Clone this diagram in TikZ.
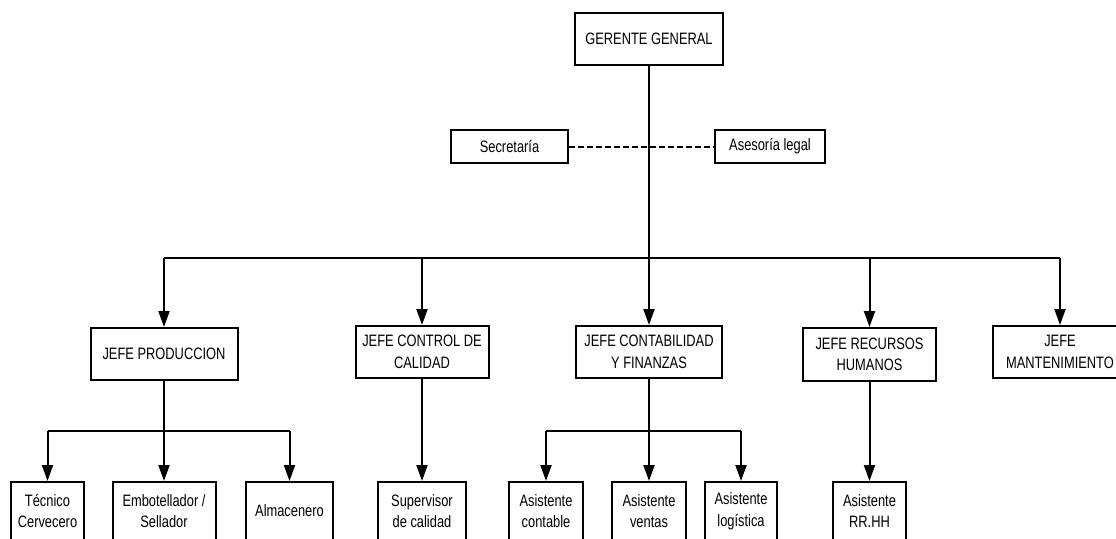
\documentclass[tikz,border=0pt]{standalone}
\usepackage{fontspec}
\setmainfont{Liberation Sans}[FakeStretch=0.78]
\usepackage{tikz}
\usetikzlibrary{arrows.meta}

\begin{document}
\begin{tikzpicture}[x=1pt,y=-1pt,line width=2pt,
    box/.style={draw,line width=2pt,align=center,inner sep=0pt,font=\fontsize{16.5}{21.5}\selectfont},
    arr/.style={-{Triangle[length=16pt,width=11pt]}}]

        \useasboundingbox (0,0) rectangle (1116,538);

        \node[box,minimum width=148pt,minimum height=52pt] (n1) at (649,39) {GERENTE GENERAL};

        \node[box,minimum width=117pt,minimum height=33pt] (n2) at (509.5,146.5) {Secretaría};
        \node[box,minimum width=110pt,minimum height=33pt] (n3) at (770,146.5) {Asesoría legal};

        \node[box,minimum width=147pt,minimum height=52pt] (n4) at (164,354) {JEFE PRODUCCION};
        \node[box,minimum width=133pt,minimum height=52pt] (n5) at (422,352) {JEFE CONTROL DE\\CALIDAD};
        \node[box,minimum width=146pt,minimum height=52pt] (n6) at (649,352) {JEFE CONTABILIDAD\\Y FINANZAS};
        \node[box,minimum width=133pt,minimum height=53pt] (n7) at (869.5,354.5) {JEFE RECURSOS\\HUMANOS};
        \node[box,minimum width=134pt,minimum height=52pt] (n8) at (1060,352) {JEFE\\MANTENIMIENTO};

        \node[box,minimum width=73pt,minimum height=58pt] (n9) at (47.5,511) {Técnico\\Cervecero};
        \node[box,minimum width=103pt,minimum height=58pt] (n10) at (164,511) {Embotellador /\\Sellador};
        \node[box,minimum width=87pt,minimum height=58pt] (n11) at (289.5,511) {Almacenero};
        \node[box,minimum width=88pt,minimum height=58pt] (n12) at (422,511) {Supervisor\\de calidad};
        \node[box,minimum width=74pt,minimum height=58pt] (n13) at (546,511) {Asistente\\contable};
        \node[box,minimum width=74pt,minimum height=58pt] (n14) at (649,511) {Asistente\\ventas};
        \node[box,minimum width=72pt,minimum height=58pt] (n15) at (741,511) {Asistente\\logística};
        \node[box,minimum width=73pt,minimum height=58pt] (n16) at (869.5,511) {Asistente\\RR.HH};

        \coordinate (c1) at (649,258);
        \coordinate (c2) at (164,431);
        \coordinate (c3) at (649,431);

        \draw[dash pattern=on 6pt off 3pt] (n2) -- (n3);
        \draw (n1) -- (c1);

        \draw (n4 |- c1) -- (n8 |- c1);
        \draw[arr] (n4 |- c1) -- (n4);
        \draw[arr] (n5 |- c1) -- (n5);
        \draw[arr] (n6 |- c1) -- (n6);
        \draw[arr] (n7 |- c1) -- (n7);
        \draw[arr] (n8 |- c1) -- (n8);

        \draw (n9 |- c2) -- (n11 |- c2);
        \draw[arr] (n4) -- (n10);
        \draw[arr] (n9 |- c2) -- (n9);
        \draw[arr] (n11 |- c2) -- (n11);

        \draw[arr] (n5) -- (n12);

        \draw (n13 |- c3) -- (n15 |- c3);
        \draw[arr] (n6) -- (n14);
        \draw[arr] (n13 |- c3) -- (n13);
        \draw[arr] (n15 |- c3) -- (n15);

        \draw[arr] (n7) -- (n16);

    \end{tikzpicture}
\end{document}
